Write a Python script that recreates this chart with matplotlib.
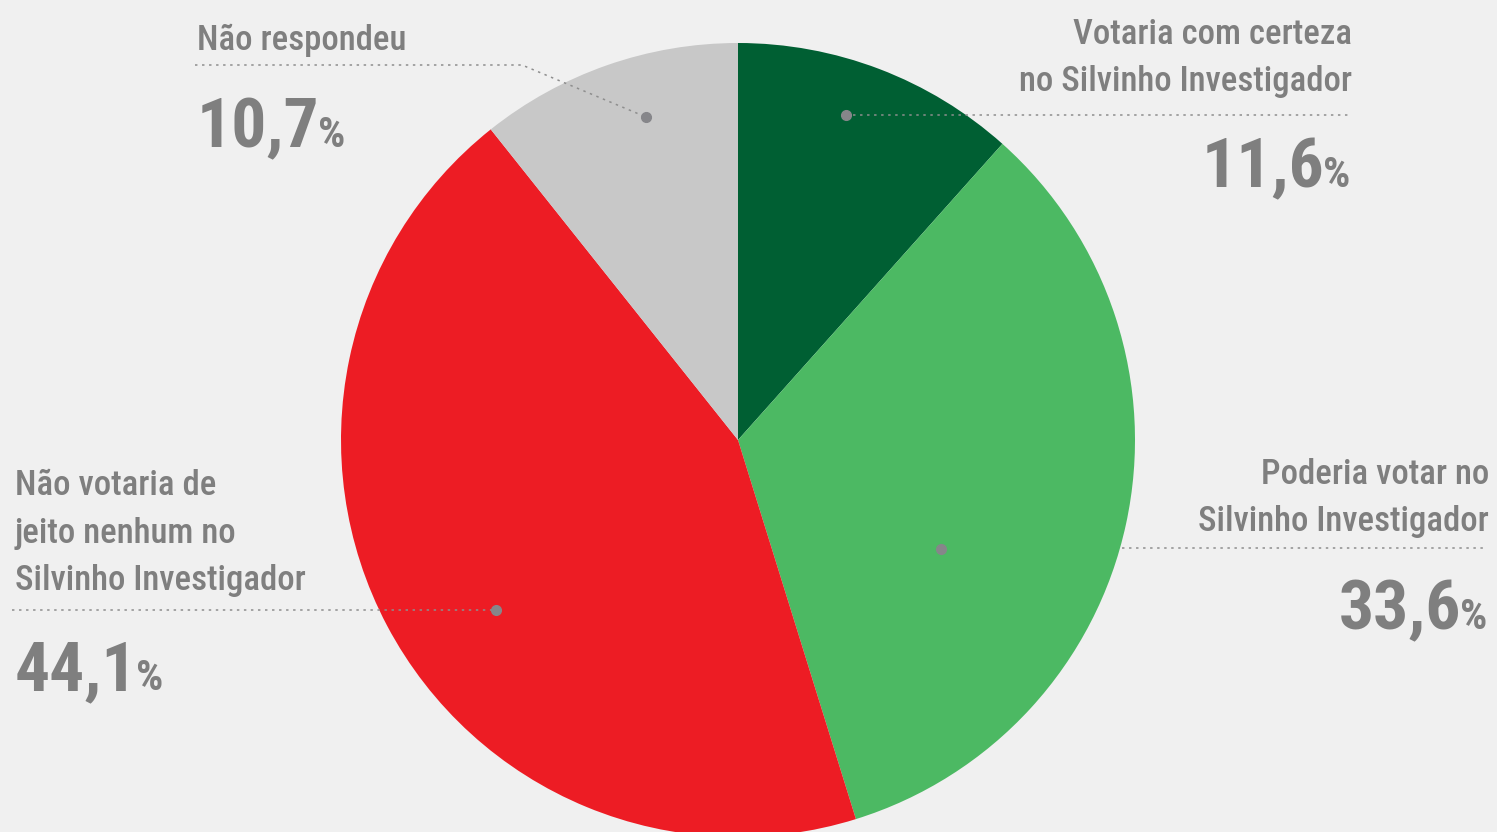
import matplotlib
matplotlib.use('Agg')
import matplotlib.pyplot as plt
from matplotlib import font_manager

# data
labels = ['Votaria com certeza\nno Silvinho Investigador',
          'Poderia votar no\nSilvinho Investigador',
          'Não votaria de\njeito nenhum no\nSilvinho Investigador',
          'Não respondeu']
values = [11.6, 33.6, 44.1, 10.7]
value_txt = ['11,6', '33,6', '44,1', '10,7']
colors = ['#005f33', '#4cb963', '#ed1c24', '#c8c8c8']

# font choice: a condensed face if there is one
fonts = [(f.name, f.stretch) for f in font_manager.fontManager.ttflist]
names = {n for n, s in fonts}
fam, stretch = 'DejaVu Sans', 'condensed'
for cand in ['Roboto Condensed', 'Liberation Sans Narrow',
             'Open Sans Condensed', 'Noto Sans Condensed', 'Arial Narrow']:
    if cand in names:
        fam, stretch = cand, 'normal'
        break

W, H = 1497, 832
bg = '#f0f0f0'
tcol = '#7f7f7f'
lcol = '#8e8e8e'
dcol = '#86868a'

fig = plt.figure(figsize=(W / 100, H / 100), dpi=100, facecolor=bg)
ax = fig.add_axes([0, 0, 1, 1])
ax.set_facecolor(bg)


def Y(y):
    return H - y


ax.pie(values, colors=colors, startangle=90, counterclock=False,
       center=(738, Y(440)), radius=397, frame=True,
       wedgeprops=dict(linewidth=0))
ax.set_xlim(0, W)
ax.set_ylim(0, H)
ax.set_aspect('auto')
ax.axis('off')

lab_kw = dict(family=fam, fontstretch=stretch, color=tcol, fontsize=25,
              fontweight='medium', va='baseline', linespacing=1.55)
num_kw = dict(family=fam, fontstretch=stretch, color=tcol, fontsize=50,
              fontweight='bold', va='baseline')
pct_kw = dict(family=fam, fontstretch=stretch, color=tcol, fontsize=31,
              fontweight='bold', va='baseline')
dash = (0, (1.6, 3.0))


def guide(xs, ys):
    ax.plot(xs, [Y(v) for v in ys], color=lcol, lw=1.1, linestyle=dash,
            zorder=3)


def dot(x, y):
    ax.plot([x], [Y(y)], 'o', color=dcol, markersize=7, zorder=4)


renderer = fig.canvas.get_renderer()


def number(txt, x, y, align):
    if align == 'left':
        t = ax.text(x, Y(y), txt, ha='left', **num_kw)
        w = t.get_window_extent(renderer).width
        ax.text(x + w - 2, Y(y), '%', ha='left', **pct_kw)
    else:
        p = ax.text(x, Y(y), '%', ha='right', **pct_kw)
        w = p.get_window_extent(renderer).width
        ax.text(x - w + 2, Y(y), txt, ha='right', **num_kw)


# Votaria com certeza
ax.text(1352, Y(91), labels[0], ha='right', multialignment='right', **lab_kw)
guide([846, 1352], [115, 115])
dot(846, 115)
number(value_txt[0], 1350, 187, 'right')

# Poderia votar
ax.text(1489, Y(531), labels[1], ha='right', multialignment='right', **lab_kw)
guide([1122, 1487], [548, 548])
dot(941, 549)
number(value_txt[1], 1487, 629, 'right')

# Não votaria
ax.text(15, Y(590), labels[2], ha='left', **lab_kw)
guide([12, 496], [610, 610])
dot(496, 610)
number(value_txt[2], 15, 690, 'left')

# Não respondeu
ax.text(197, Y(50), labels[3], ha='left', **lab_kw)
guide([195, 522, 646], [65, 65, 117])
dot(646, 117)
number(value_txt[3], 197, 147, 'left')

fig.savefig('out.png', dpi=100, facecolor=bg)
